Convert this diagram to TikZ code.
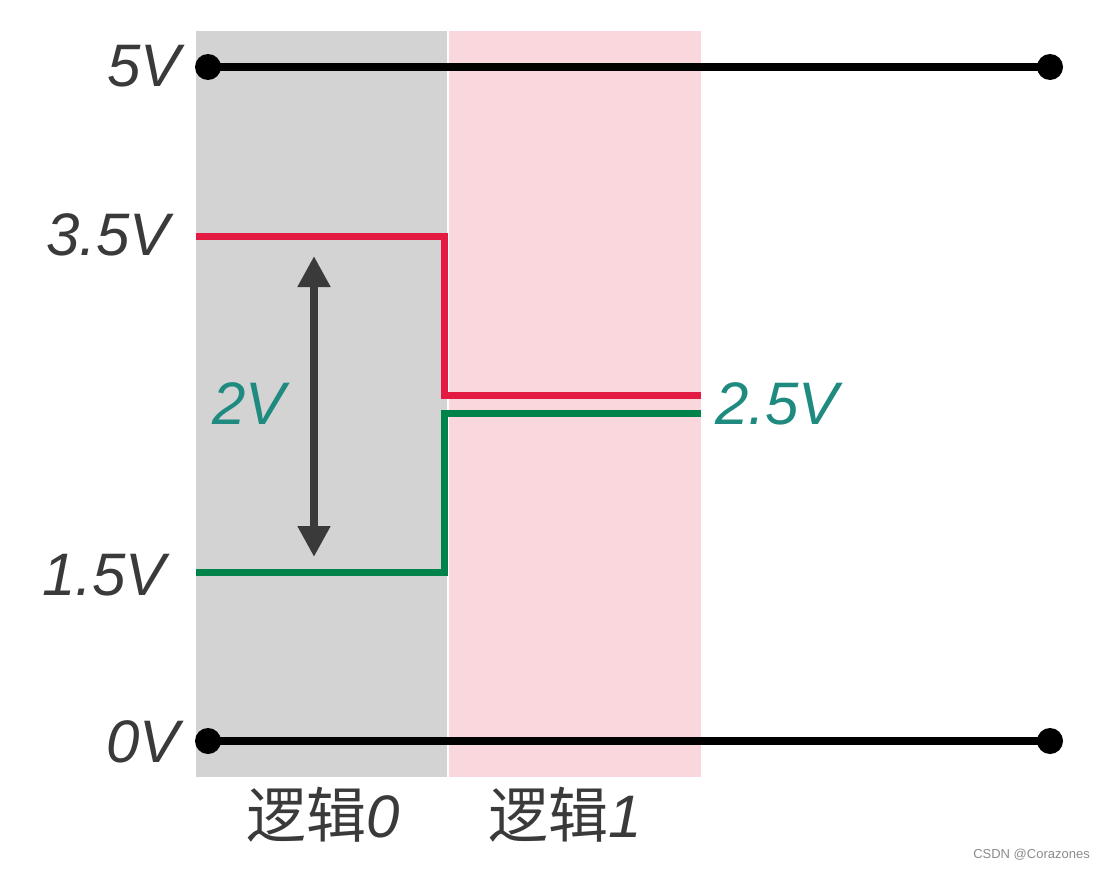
\documentclass[tikz,border=0pt]{standalone}
\usepackage{fontspec}
\usepackage{tikz}
\usetikzlibrary{arrows.meta}
\newfontfamily\cjk{Noto Sans CJK SC}
\newfontfamily\lab{Liberation Sans Italic}
\newfontfamily\wm{Liberation Sans}
\definecolor{zonegray}{HTML}{D3D3D3}
\definecolor{zonepink}{HTML}{F9D7DD}
\definecolor{highred}{HTML}{E31B42}
\definecolor{lowgreen}{HTML}{00834A}
\definecolor{teal}{HTML}{1E8A80}
\definecolor{ink}{HTML}{3A3A3A}

\begin{document}
\begin{tikzpicture}[
  x=1pt, y=-1pt,
  volt/.style={font=\fontsize{60}{66}\selectfont\lab, text=ink, inner sep=0pt},
  note/.style={volt, text=teal},
  logic/.style={inner sep=0pt, text=ink, font=\fontsize{60}{66}\selectfont},
  dot/.style={circle, fill=black, minimum size=26pt, inner sep=0pt},
  rail/.style={line width=8pt},
  level/.style={line width=7pt}
]
\useasboundingbox (0,0) rectangle (1106,870);
\fill[white] (0,0) rectangle (1106,870);

% logic zones
\fill[zonegray] (196,31) rectangle (447,777);
\fill[zonepink] (449,31) rectangle (701,777);

% supply rails
\node[dot] (top1) at (208,67) {};
\node[dot] (top2) at (1050,67) {};
\node[dot] (bot1) at (208,741) {};
\node[dot] (bot2) at (1050,741) {};
\draw[rail] (top1.center) -- (top2.center);
\draw[rail] (bot1.center) -- (bot2.center);

% thresholds
\draw[level, highred] (196,236) -- (444,236) -- (444,395) -- (701,395);
\draw[level, lowgreen] (196,572) -- (444,572) -- (444,413) -- (701,413);

% margin
\coordinate (mtop) at (314,256);
\coordinate (mbot) at (314,557);
\draw[line width=8pt, ink, {Triangle[length=31pt,width=31pt]}-{Triangle[length=31pt,width=31pt]}] (mtop) -- (mbot);

% labels
\node[volt, anchor=east] (v5) at (181,66) {5V};
\node[volt, anchor=east] (v35) at (170,235) {3.5V};
\node[volt, anchor=east] (v15) at (166,575) {1.5V};
\node[volt, anchor=east] (v0) at (180,742) {0V};
\node[note, anchor=west] (v2) at (212,404) {2V};
\node[note, anchor=west] (v25) at (715,404) {2.5V};
\node[logic] (lz) at (323,815) {{\cjk 逻辑}{\lab 0}};
\node[logic] (lo) at (565,815) {{\cjk 逻辑}{\lab 1}};

\node[font=\fontsize{13}{15}\selectfont\wm, text=black!45, anchor=east, inner sep=0pt] (mark) at (1090,855) {CSDN @Corazones};
\end{tikzpicture}
\end{document}
